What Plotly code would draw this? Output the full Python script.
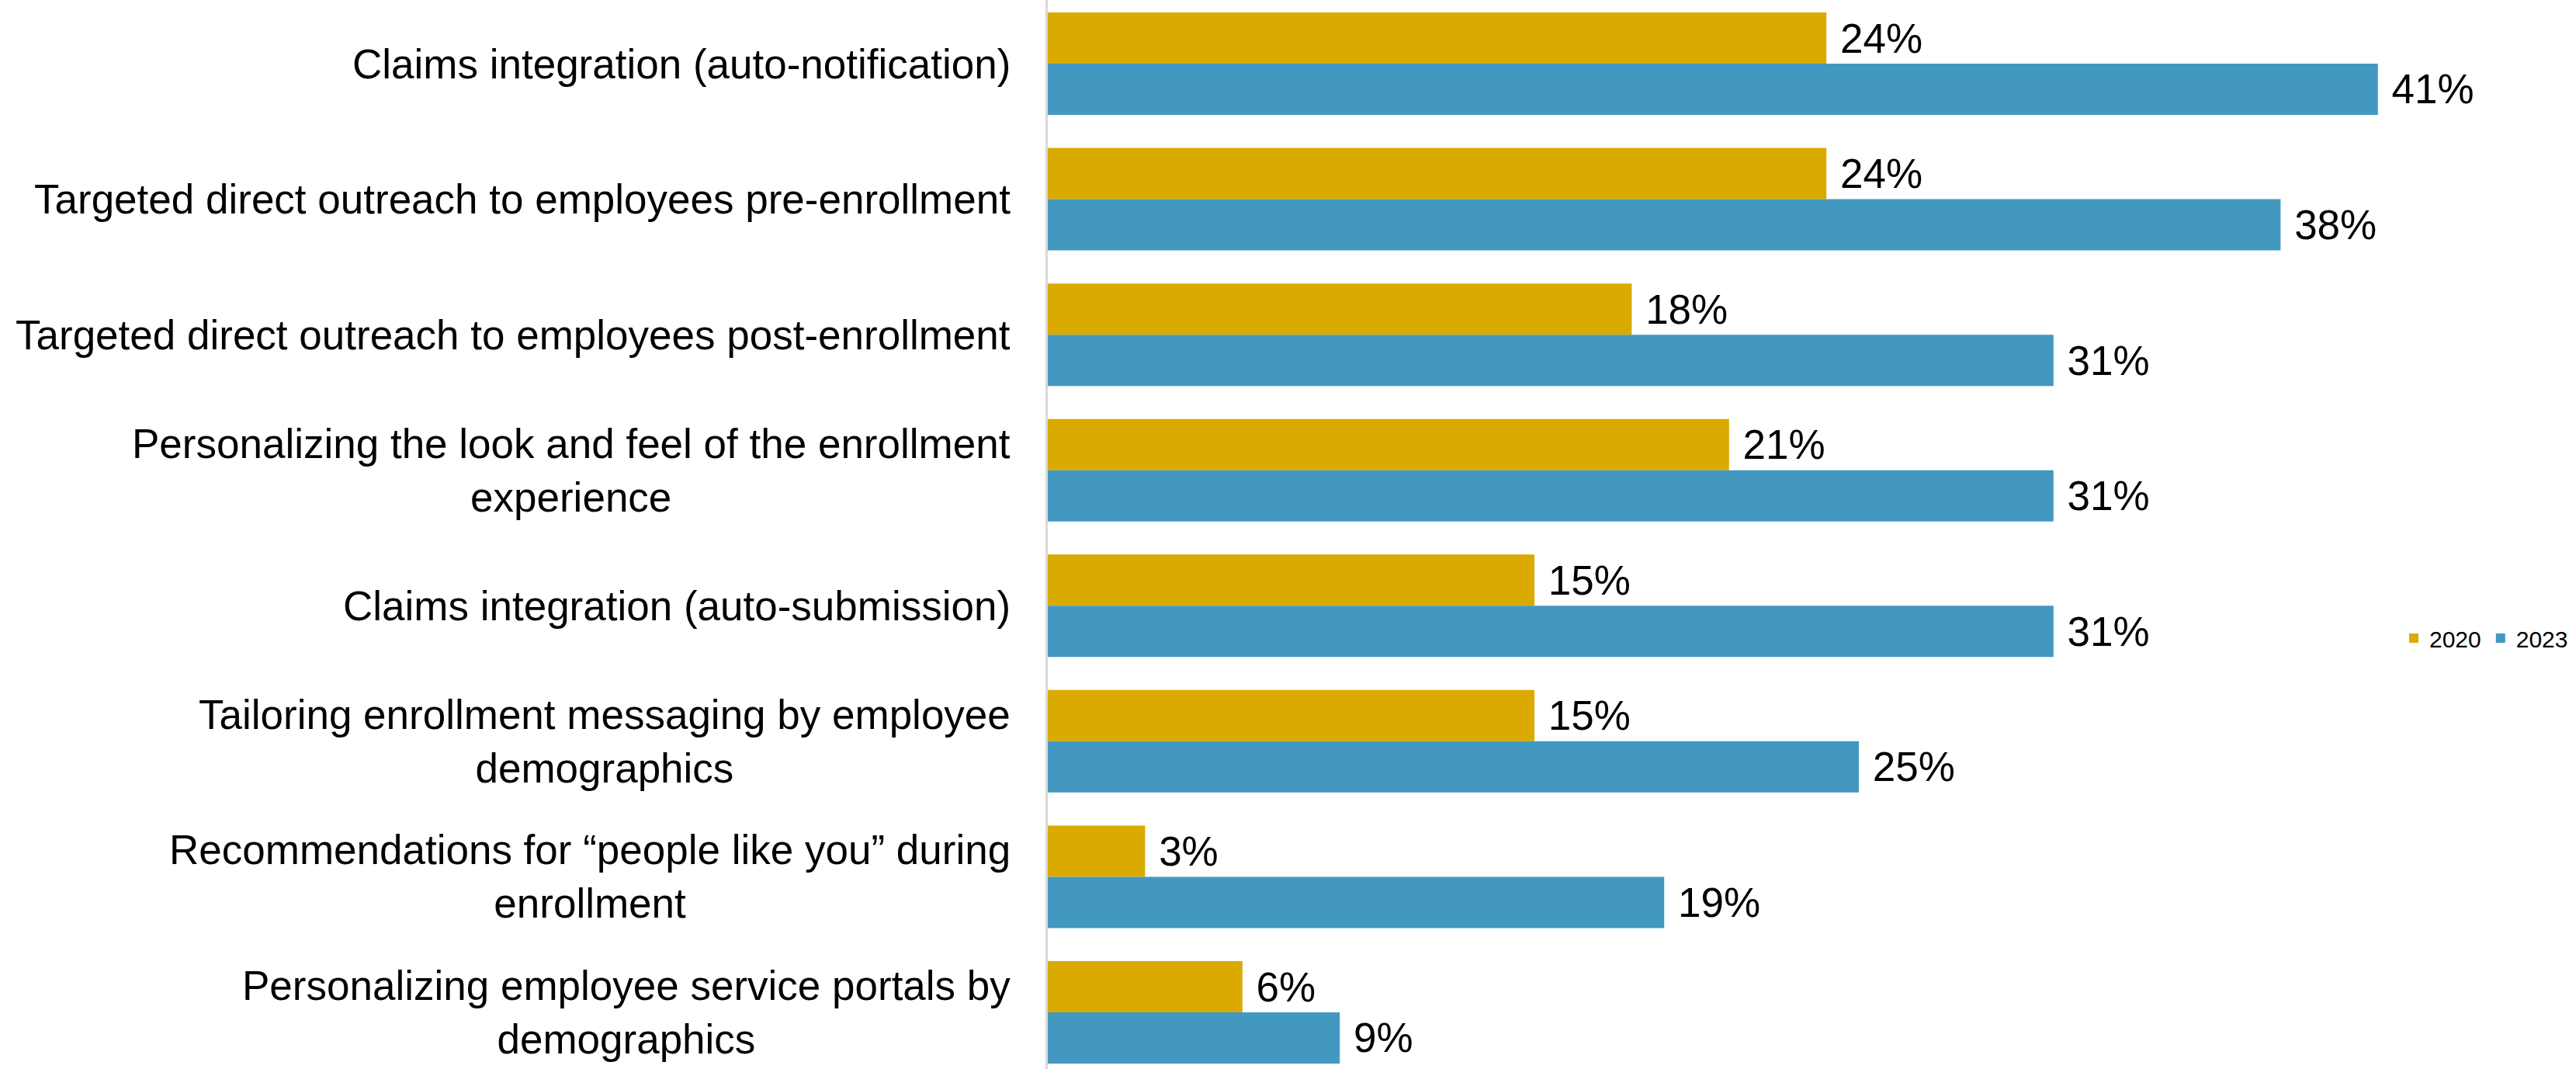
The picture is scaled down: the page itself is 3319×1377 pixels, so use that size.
import plotly.graph_objects as go

# Survey items (top to bottom)
categories = [
    "Claims integration (auto-notification)",
    "Targeted direct outreach to employees pre-enrollment",
    "Targeted direct outreach to employees post-enrollment",
    "Personalizing the look and feel of the enrollment<br>experience",
    "Claims integration (auto-submission)",
    "Tailoring enrollment messaging by employee<br>demographics",
    "Recommendations for \u201cpeople like you\u201d during<br>enrollment",
    "Personalizing employee service portals by<br>demographics",
]

# Share of respondents (%)
values_2020 = [24, 24, 18, 21, 15, 15, 3, 6]
values_2023 = [41, 38, 31, 31, 31, 25, 19, 9]

series_names = ["2020", "2023"]
series_colors = ["#DAAA00", "#4398C0"]

W, H = 3319, 1377
LEFT = 1350
PX_PER_PCT = 41.8
FONT = "Arial, Liberation Sans, Helvetica, sans-serif"

fig = go.Figure()
for name, vals, color in zip(series_names, [values_2020, values_2023], series_colors):
    fig.add_trace(go.Bar(
        name=name,
        y=categories,
        x=vals,
        orientation="h",
        marker=dict(color=color, line=dict(width=0)),
        text=[f" {v}%" for v in vals],
        textposition="outside",
        constraintext="none",
        cliponaxis=False,
        textfont=dict(family=FONT, size=53, color="#000000"),
        hoverinfo="skip",
    ))

# Category labels, centred line-by-line and right-anchored beside the axis
for cat in categories:
    fig.add_annotation(
        xref="paper", yref="y", x=0, y=cat,
        xanchor="right", yanchor="middle", xshift=-46,
        text=cat, align="center", showarrow=False,
        font=dict(family=FONT, size=53, color="#000000"),
    )

plot_w = W - LEFT
fig.update_layout(
    width=W, height=H,
    margin=dict(l=LEFT, r=0, t=0, b=0, pad=0),
    paper_bgcolor="white", plot_bgcolor="white",
    barmode="group", bargap=0.244, bargroupgap=0,
    font=dict(family=FONT, color="#000000"),
    showlegend=True,
    legend=dict(
        orientation="h",
        x=(3090 - LEFT) / plot_w, y=1 - 822 / H,
        xanchor="left", yanchor="middle",
        font=dict(family=FONT, size=30, color="#000000"),
        bgcolor="rgba(0,0,0,0)",
        itemclick=False, itemdoubleclick=False,
    ),
    xaxis=dict(
        range=[0, plot_w / PX_PER_PCT],
        showgrid=False, zeroline=False, showline=False,
        showticklabels=False, ticks="",
    ),
    yaxis=dict(
        type="category",
        categoryorder="array", categoryarray=categories,
        range=[7 + (H - 1304) / 174.57, -82 / 174.57],
        showgrid=False, zeroline=False,
        showline=True, linecolor="#D9D9D9", linewidth=3,
        showticklabels=False, ticks="",
    ),
)

fig.write_html("out.html")
